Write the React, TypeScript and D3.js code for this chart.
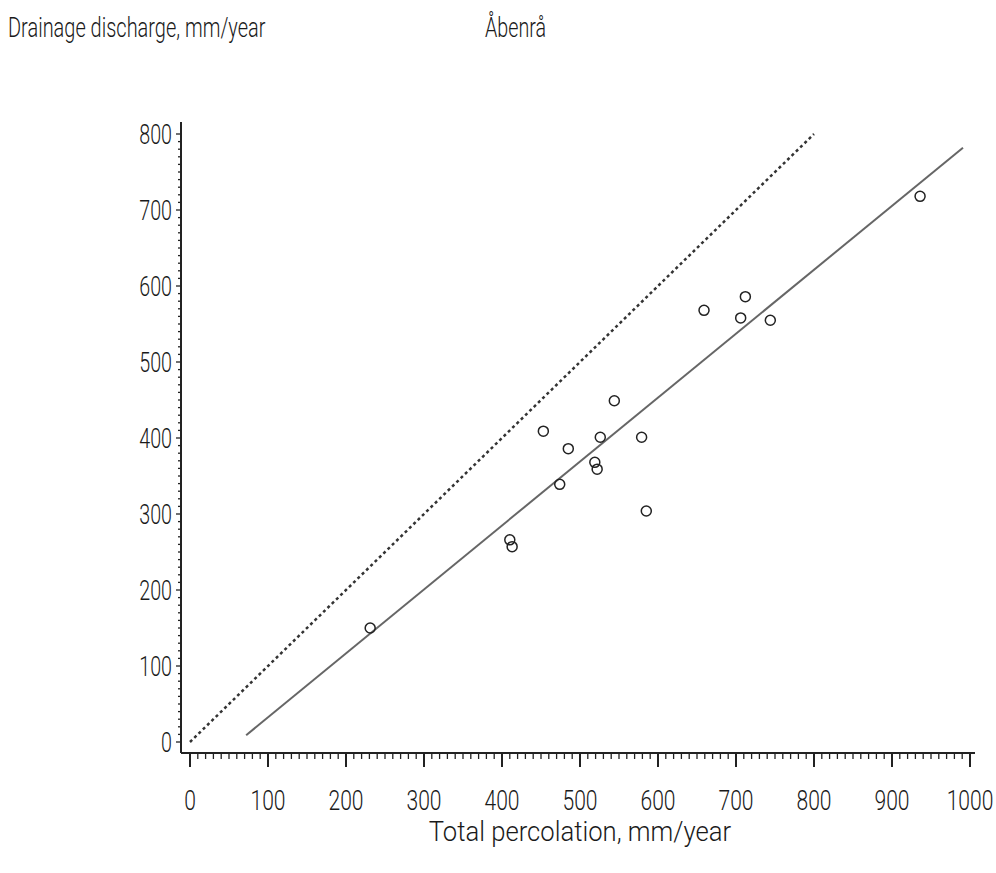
import React from "react";
import * as d3 from "d3";

const percolation = [231, 410, 413, 453, 474, 485, 526, 519, 522, 544, 579, 585, 659, 706, 712, 744, 936];
const discharge = [150, 266, 257, 409, 339, 386, 401, 368, 359, 449, 401, 304, 568, 558, 586, 555, 718];
const xTicks = [0, 100, 200, 300, 400, 500, 600, 700, 800, 900, 1000];
const yTicks = [0, 100, 200, 300, 400, 500, 600, 700, 800];
const oneToOne = [[0, 0], [800, 800]];
const regression = [[72, 9], [991, 782]];

function T({ x, y, anchor = "start", sx = 0.73, children }: { x: number; y: number; anchor?: string; sx?: number; children: React.ReactNode }) {
  return (
    <text transform={`translate(${x},${y}) scale(${sx},1)`} fontSize={27} fontWeight={300} textAnchor={anchor} fill="#1a1a1a">
      {children}
    </text>
  );
}

export default function App() {
  const W = 996, H = 873;
  const x = d3.scaleLinear().domain([0, 1000]).range([190, 970]);
  const y = d3.scaleLinear().domain([0, 800]).range([742, 134]);
  const axisX = 181, axisY = 753;
  const line = d3.line<number[]>().x(d => x(d[0])).y(d => y(d[1]));
  const minorX = d3.range(0, 1001, 10);
  const minorY = d3.range(0, 801, 10);
  const font = "Roboto, 'Liberation Sans', Arial, sans-serif";
  const col = "#222";
  return (
    <svg width={W} height={H} style={{ position: "absolute", left: 0, top: 0 }} fontFamily={font}>
      <rect width={W} height={H} fill="#fff" />
      <T x={8} y={37} sx={0.74}>Drainage discharge, mm/year</T>
      <T x={485} y={37}>Åbenrå</T>
      {/* axes */}
      <line x1={axisX} x2={axisX} y1={122} y2={axisY} stroke={col} strokeWidth={2} />
      <line x1={axisX} x2={975} y1={axisY} y2={axisY} stroke={col} strokeWidth={2} />
      {minorX.map(v => (
        <line key={"mx" + v} x1={x(v)} x2={x(v)} y1={axisY} y2={axisY + (v % 100 === 0 ? 14 : 6)} stroke={col} strokeWidth={v % 100 === 0 ? 2 : 1.3} />
      ))}
      {minorY.map(v => (
        <line key={"my" + v} x1={axisX} x2={axisX - (v % 100 === 0 ? 5 : 3)} y1={y(v)} y2={y(v)} stroke={col} strokeWidth={1.3} />
      ))}
      {xTicks.map(v => (
        <T key={"xt" + v} x={x(v)} y={810} anchor="middle" sx={0.78}>{v}</T>
      ))}
      {yTicks.map(v => (
        <T key={"yt" + v} x={172} y={y(v) + 10} anchor="end">{v}</T>
      ))}
      <T x={580} y={841} anchor="middle" sx={0.95}>Total percolation, mm/year</T>
      {/* lines */}
      <path d={line(oneToOne) || ""} fill="none" stroke="#333" strokeWidth={2.5} strokeDasharray="3,3" />
      <path d={line(regression) || ""} fill="none" stroke="#666" strokeWidth={2} />
      {percolation.map((p, i) => (
        <circle key={i} cx={x(p)} cy={y(discharge[i])} r={5} fill="none" stroke={col} strokeWidth={1.5} />
      ))}
    </svg>
  );
}
